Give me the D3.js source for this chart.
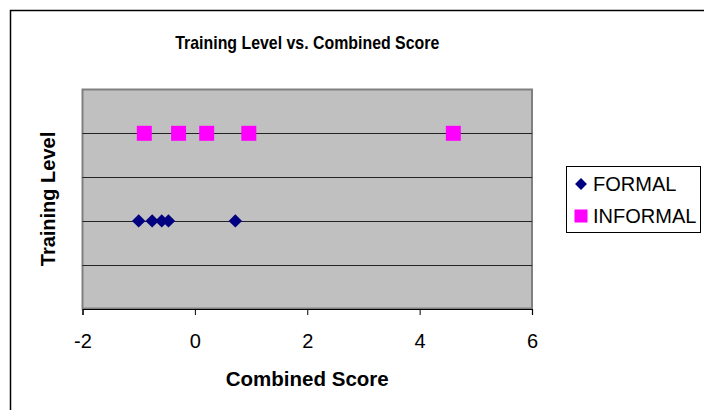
<!DOCTYPE html>
<html>
<head>
<meta charset="utf-8">
<script src="https://cdn.jsdelivr.net/npm/d3@7"></script>
<style>
  html, body { margin: 0; padding: 0; background: #fff; }
  svg { display: block; font-family: "Liberation Sans", Arial, sans-serif; }
</style>
</head>
<body>
<svg id="chart" width="704" height="410"></svg>
<script>
// Series: combined score (x) per training level (y)
const seriesNames = ["FORMAL", "INFORMAL"];
const seriesLevels = [2, 4];
const formalScores = [-1.0, -0.76, -0.59, -0.47, 0.72];
const informalScores = [-0.9, -0.29, 0.21, 0.96, 4.6];
const xTicks = [-2, 0, 2, 4, 6];
const yGrid = [1, 2, 3, 4];

const svg = d3.select("#chart");
const plot = { left: 82.5, right: 532, top: 89.5, bottom: 308.5 };

const x = d3.scaleLinear().domain([-2, 6]).range([plot.left, plot.right]);
const y = d3.scaleLinear().domain([0, 5]).range([plot.bottom, plot.top]);

// chart frame
svg.append("rect").attr("width", 704).attr("height", 410).attr("fill", "#fff");
svg.append("rect")
  .attr("x", 10.5).attr("y", 10.5).attr("width", 800).attr("height", 600)
  .attr("fill", "none").attr("stroke", "#000").attr("stroke-width", 1.5);

// plot area
svg.append("rect")
  .attr("x", plot.left).attr("y", plot.top)
  .attr("width", plot.right - plot.left).attr("height", plot.bottom - plot.top)
  .attr("fill", "#c0c0c0").attr("stroke", "#808080").attr("stroke-width", 2);

// horizontal gridlines
svg.append("g").selectAll("line").data(yGrid).join("line")
  .attr("x1", plot.left).attr("x2", plot.right)
  .attr("y1", d => Math.round(y(d)) + 0.5).attr("y2", d => Math.round(y(d)) + 0.5)
  .attr("stroke", "#222").attr("stroke-width", 1.2);

// x axis
const xAxis = svg.append("g")
  .attr("transform", `translate(0,${plot.bottom + 0.5})`)
  .call(d3.axisBottom(x).tickValues(xTicks).tickSize(6).tickPadding(19).tickFormat(d3.format("d")));
xAxis.select(".domain").attr("stroke", "#000").attr("stroke-width", 1.2);
xAxis.selectAll(".tick line").attr("stroke", "#000");
xAxis.selectAll("text")
  .attr("font-family", "Liberation Sans, Arial, sans-serif")
  .attr("font-size", 20).attr("fill", "#000")
  .text(d => d < 0 ? "-" + Math.abs(d) : d);

// titles
svg.append("text")
  .attr("x", (plot.left + plot.right) / 2).attr("y", 49)
  .attr("text-anchor", "middle").attr("font-weight", "bold").attr("font-size", 19)
  .attr("textLength", 264).attr("lengthAdjust", "spacingAndGlyphs")
  .text("Training Level vs. Combined Score");

svg.append("text")
  .attr("x", (plot.left + plot.right) / 2).attr("y", 386)
  .attr("text-anchor", "middle").attr("font-weight", "bold").attr("font-size", 20.5)
  .text("Combined Score");

svg.append("text")
  .attr("transform", `translate(55,${(plot.top + plot.bottom) / 2}) rotate(-90)`)
  .attr("text-anchor", "middle").attr("font-weight", "bold").attr("font-size", 20)
  .text("Training Level");

// markers
const diamond = d3.symbol().type(d3.symbolDiamond2).size(115);
const square = d3.symbol().type(d3.symbolSquare).size(225);

svg.append("g").selectAll("path").data(formalScores).join("path")
  .attr("d", diamond)
  .attr("transform", d => `translate(${x(d)},${y(seriesLevels[0])})`)
  .attr("fill", "#000080");

svg.append("g").selectAll("path").data(informalScores).join("path")
  .attr("d", square)
  .attr("transform", d => `translate(${x(d)},${y(seriesLevels[1])})`)
  .attr("fill", "#ff00ff");

// legend
const legend = svg.append("g");
legend.append("rect")
  .attr("x", 566.5).attr("y", 166.5).attr("width", 134).attr("height", 66)
  .attr("fill", "#fff").attr("stroke", "#000").attr("stroke-width", 1);
const legendSymbols = [
  d3.symbol().type(d3.symbolDiamond2).size(90),
  d3.symbol().type(d3.symbolSquare).size(170)
];
const legendColors = ["#000080", "#ff00ff"];
seriesNames.forEach((name, i) => {
  const cy = 184 + i * 32;
  legend.append("path")
    .attr("d", legendSymbols[i]())
    .attr("transform", `translate(581,${cy})`)
    .attr("fill", legendColors[i]);
  legend.append("text")
    .attr("x", 593).attr("y", cy + 7)
    .attr("font-size", 20)
    .text(name);
});
</script>
</body>
</html>
